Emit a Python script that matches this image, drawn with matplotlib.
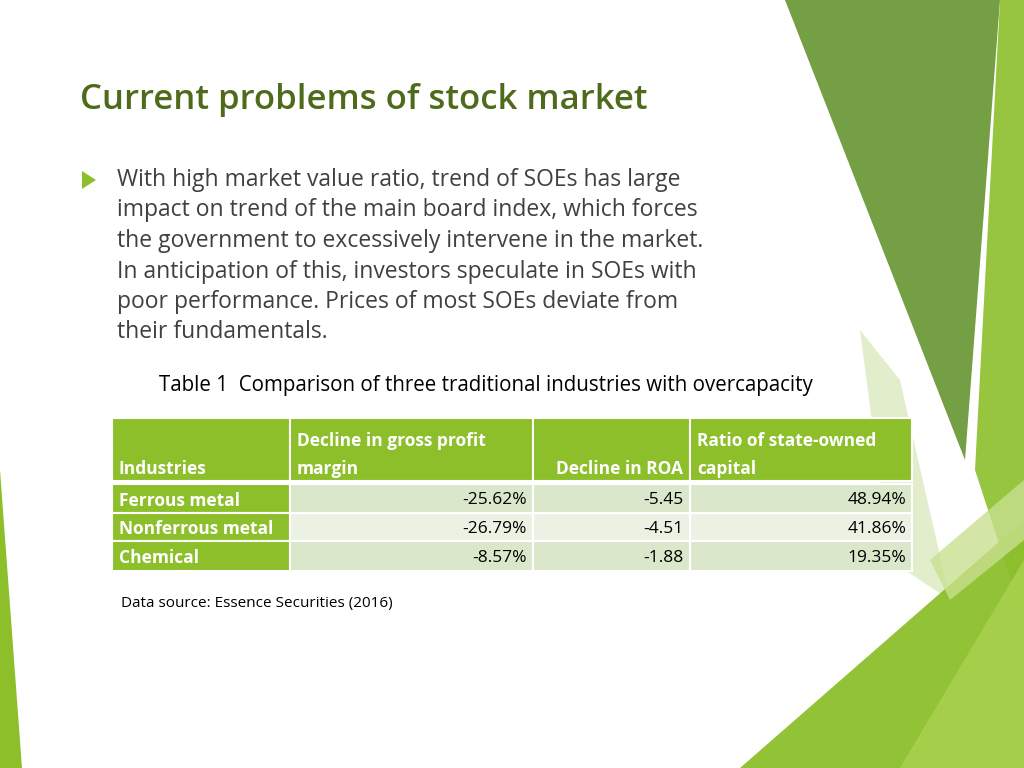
import matplotlib.pyplot as plt
from matplotlib.patches import Polygon, Rectangle

title = "Current problems of stock market"
bullet_lines = [
    "With high market value ratio, trend of SOEs has large",
    "impact on trend of the main board index, which forces",
    "the government to excessively intervene in the market.",
    "In anticipation of this, investors speculate in SOEs with",
    "poor performance. Prices of most SOEs deviate from",
    "their fundamentals.",
]
caption = "Table 1  Comparison of three traditional industries with overcapacity"
source = "Data source: Essence Securities (2016)"

headers = [["", "Decline in gross profit", "", "Ratio of state-owned"],
           ["Industries", "margin", "Decline in ROA", "capital"]]
industries = ["Ferrous metal", "Nonferrous metal", "Chemical"]
gross_margin = ["-25.62%", "-26.79%", "-8.57%"]
roa = ["-5.45", "-4.51", "-1.88"]
state_ratio = ["48.94%", "41.86%", "19.35%"]

GREEN = "#8dbf2b"
DARK = "#4e6b1c"
FONT = "Open Sans"

fig = plt.figure(figsize=(10.24, 7.68), dpi=100)
ax = fig.add_axes([0, 0, 1, 1])
ax.set_xlim(0, 1024)
ax.set_ylim(768, 0)
ax.axis("off")

# decorative shapes on the right
shapes = [
    ([(785, 0), (1000, 0), (965, 460)], "#6e9a3a", 0.95),
    ([(1000, 0), (1024, 0), (1024, 620), (975, 470)], "#8cbf2a", 0.9),
    ([(860, 330), (900, 380), (950, 600), (890, 560)], "#d6e7b5", 0.7),
    ([(740, 768), (1024, 520), (1024, 768)], "#8cbf2a", 0.95),
    ([(900, 768), (1024, 560), (1024, 768)], "#a8d04d", 0.9),
    ([(930, 560), (1024, 480), (1024, 540), (950, 600)], "#c8e08f", 0.8),
    ([(0, 470), (0, 768), (22, 768)], "#8cbf2a", 1.0),
]
for pts, c, a in shapes:
    ax.add_patch(Polygon(pts, closed=True, fc=c, ec="none", alpha=a, zorder=0))

ax.text(80, 100, title, fontsize=25, fontweight="semibold", color=DARK,
        family=FONT, va="center")
ax.add_patch(Polygon([(82, 171), (82, 189), (96, 180)], fc=GREEN, ec="none"))
for i, line in enumerate(bullet_lines):
    ax.text(117, 180 + i * 30.5, line, fontsize=16.5, color="#404040",
            family=FONT, va="center")
ax.text(159, 386, caption, fontsize=14.8, color="black", family=FONT, va="center")
ax.text(121, 604, source, fontsize=11, color="black", family=FONT, va="center")

# table
cols = [112, 290, 533, 690, 912]
head_top, head_bot = 418, 481
rows = [(484, 513), (513, 541), (541, 571)]
for j in range(4):
    ax.add_patch(Rectangle((cols[j], head_top), cols[j + 1] - cols[j],
                           head_bot - head_top, fc=GREEN, ec="white", lw=1.5))
    ax.text(cols[j] + 7, 441, headers[0][j], fontsize=12.5, color="white",
            fontweight="bold", family=FONT, va="center")
    ha = "right" if j == 2 else "left"
    x = cols[j + 1] - 7 if j == 2 else cols[j] + 7
    ax.text(x, 469, headers[1][j], fontsize=12.5, color="white",
            fontweight="bold", family=FONT, va="center", ha=ha)
for i, (y0, y1) in enumerate(rows):
    fill = "#dbe7cb" if i != 1 else "#ecf2e3"
    ax.add_patch(Rectangle((cols[0], y0), cols[1] - cols[0], y1 - y0,
                           fc=GREEN, ec="white", lw=1.5))
    ax.text(cols[0] + 7, (y0 + y1) / 2 + 2, industries[i], fontsize=12.5,
            color="white", fontweight="bold", family=FONT, va="center")
    for j, val in enumerate([gross_margin[i], roa[i], state_ratio[i]], start=1):
        ax.add_patch(Rectangle((cols[j], y0), cols[j + 1] - cols[j], y1 - y0,
                               fc=fill, ec="white", lw=1.5))
        ax.text(cols[j + 1] - 6, (y0 + y1) / 2 + 2, val, fontsize=12.5,
                color="black", family=FONT, va="center", ha="right")

fig.savefig("out.png", dpi=100)
